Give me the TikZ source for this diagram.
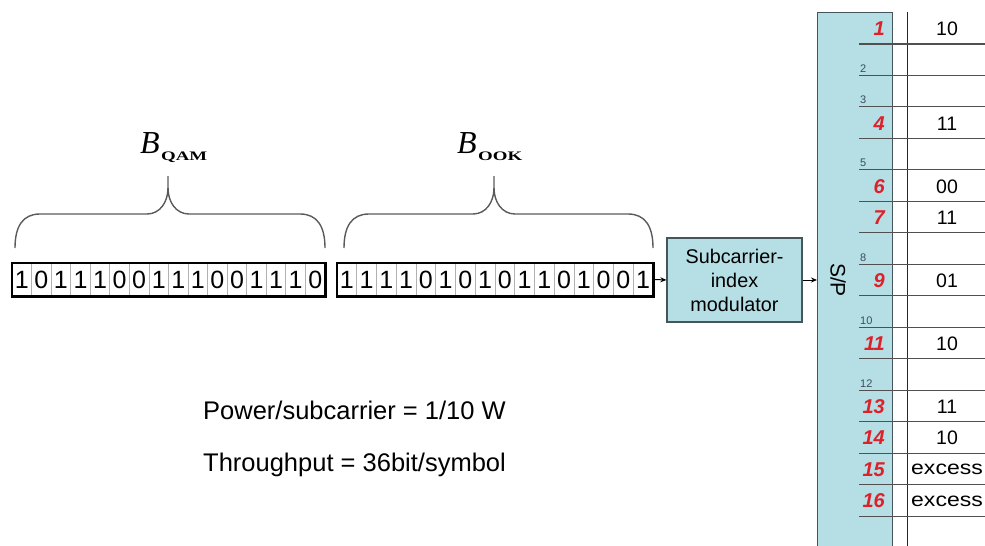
\documentclass[tikz,border=0pt]{standalone}
\usepackage{fontspec}
\setmainfont{Liberation Sans}
\newfontfamily\timesfont{Liberation Serif}
\usetikzlibrary{fit,arrows.meta,calc}

\definecolor{boxblue}{RGB}{182,222,229}
\definecolor{boxedge}{RGB}{70,85,92}
\definecolor{idxred}{RGB}{222,32,40}
\definecolor{idxgray}{RGB}{60,75,95}
\definecolor{rulegray}{RGB}{80,80,80}
\definecolor{bracegray}{RGB}{90,90,90}

% font size in pt with a given line spacing
\newcommand\fsz[2]{\fontsize{#1}{#2}\selectfont}

% downward-opening curly brace: left end, tip, right end
\newcommand\topbrace[3]{%
  \draw[bracestyle] (#1,248) .. controls (#1,226) and ({#1+8},214) .. ({#1+25},214)
    -- ({#2-21},214) .. controls ({#2-8},214) and (#2,202) .. (#2,188) -- (#2,176);
  \draw[bracestyle] (#2,188) .. controls (#2,202) and ({#2+8},214) .. ({#2+21},214)
    -- ({#3-25},214) .. controls ({#3-8},214) and (#3,226) .. (#3,248);}

\begin{document}
\begin{tikzpicture}[x=1pt,y=-1pt,
  bitcell/.style={draw=gray!60, line width=0.8pt, minimum height=33pt,
    inner sep=0pt, font=\fsz{25}{25}},
  bitframe/.style={draw=black, line width=2.2pt, inner sep=0pt},
  bracestyle/.style={draw=bracegray, line width=1.4pt},
  blockbox/.style={draw=boxedge, fill=boxblue, line width=1.2pt, inner sep=0pt},
  feed/.style={-{Stealth[length=6pt,width=5pt]}, line width=1pt},
  rowrule/.style={draw=rulegray, line width=1.1pt},
  bigidx/.style={anchor=east, inner sep=0pt, text=idxred,
    font=\fsz{20}{20}\bfseries\itshape},
  smallidx/.style={anchor=base west, inner sep=0pt, text=idxgray,
    font=\fsz{11}{11}},
  cellval/.style={inner sep=0pt, font=\fsz{19.5}{19.5}},
  note/.style={anchor=base west, inner sep=0pt, font=\fsz{25.5}{25.5}}]

\useasboundingbox (0,0) rectangle (985,546);
\clip (0,0) rectangle (985,546);

% ---- bit strings ----
\foreach \b [count=\i] in {1,0,1,1,1,0,0,1,1,1,0,0,1,1,1,0}
  \node[bitcell, minimum width=19.5625pt] (q\i) at ({12+19.5625*(\i-0.5)},279.5) {\b};
\node[bitframe, fit=(q1)(q16)] (qam) {};

\foreach \b [count=\i] in {1,1,1,1,0,1,0,1,0,1,1,0,1,0,0,1}
  \node[bitcell, minimum width=19.75pt] (o\i) at ({337+19.75*(\i-0.5)},279.5) {\b};
\node[bitframe, fit=(o1)(o16)] (ook) {};

% ---- braces and their labels ----
\topbrace{15}{168}{325}
\topbrace{344}{494}{653}

\node[anchor=base west, inner sep=0pt] (bq) at (140,153)
  {\timesfont\itshape\fsz{32}{32}B};
\node[anchor=base west, inner sep=0pt] (bqsub) at (161,160)
  {\timesfont\bfseries\fsz{13}{13}\scalebox{1.45}[1]{QAM}};
\node[anchor=base west, inner sep=0pt] (bo) at (457,153)
  {\timesfont\itshape\fsz{32}{32}B};
\node[anchor=base west, inner sep=0pt] (bosub) at (478,160)
  {\timesfont\bfseries\fsz{13}{13}\scalebox{1.45}[1]{OOK}};

% ---- modulator and S/P blocks ----
\node[blockbox, minimum width=135pt, minimum height=84pt, align=center,
  font=\fsz{19.8}{24}] (mod) at (734.5,280) {Subcarrier-\\index\\modulator};

\node[blockbox, minimum width=75pt, minimum height=560pt, anchor=north west]
  (sp) at (817,12) {};
\node[rotate=-90, inner sep=0pt, font=\fsz{21}{21}] (splabel) at (838,280) {S/P};

\draw[feed] (ook.east) -- (mod.west);
\draw[feed] (mod.east) -- (mod.east -| sp.west);

% ---- subcarrier table ----
\draw[black!85, line width=1pt] (907,12) -- (907,560);
\foreach \k in {1,...,16}{
  \pgfmathsetmacro\yk{44+(\k-1)*31.47}
  \draw[rowrule] (859,\yk) -- (990,\yk);
}
\foreach \k/\v in {1/10,4/11,6/00,7/11,9/01,11/10,13/11,14/10}{
  \pgfmathsetmacro\yk{44+(\k-1)*31.47-15}
  \node[bigidx] (n\k) at (885,\yk) {\k};
  \node[cellval] (v\k) at (947,\yk) {\v};
}
\foreach \k in {15,16}{
  \pgfmathsetmacro\yk{44+(\k-1)*31.47-15}
  \node[bigidx] (n\k) at (885,\yk) {\k};
  \node[cellval] (v\k) at (947,\yk) {\scalebox{1.18}[1]{excess}};
}
\foreach \k in {2,3,5,8,10,12}{
  \pgfmathsetmacro\yk{44+(\k-1)*31.47-3}
  \node[smallidx] (n\k) at (860,\yk) {\k};
}

% ---- notes ----
\node[note] (power) at (203,419) {Power/subcarrier = 1/10 W};
\node[note] (thru) at (203,471) {Throughput = 36bit/symbol};

\end{tikzpicture}
\end{document}
